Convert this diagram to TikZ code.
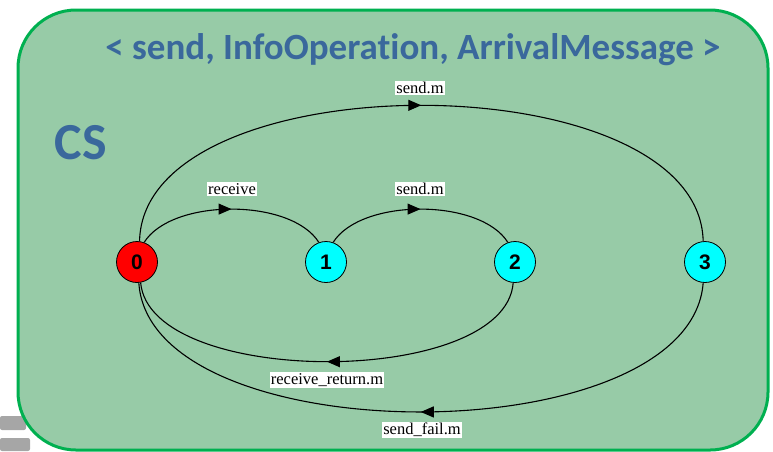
\documentclass[tikz,border=0pt]{standalone}
\usepackage{fontspec}
\setmainfont{Liberation Serif}
\newfontfamily\calib[Ligatures=NoCommon]{Carlito}
\newfontfamily\arialf{Liberation Sans}
\usetikzlibrary{arrows.meta,decorations.markings}
\definecolor{boxgreen}{RGB}{0,176,80}
\definecolor{boxfill}{RGB}{151,203,167}
\definecolor{titleblue}{RGB}{58,104,156}
\definecolor{statecyan}{RGB}{0,255,255}
\definecolor{statered}{RGB}{255,0,0}
\begin{document}
\begin{tikzpicture}[x=1pt,y=-1pt,
 state/.style={circle,draw=black,line width=0.8pt,minimum size=41pt,inner sep=0pt,font=\arialf\bfseries\fontsize{21}{21}\selectfont},
 lbl/.style={fill=white,inner sep=1pt,font=\fontsize{16.5}{16.5}\selectfont},
 trans/.style={draw=black,line width=1.1pt,postaction={decorate},decoration={markings,mark=at position 0.5 with {\arrow{Triangle[length=13pt,width=11pt]}}}},
 titlefont/.style={text=titleblue,font=\calib\bfseries\fontsize{37}{37}\selectfont}]
\useasboundingbox (0,0) rectangle (773,451);
% logo fragment behind the box
\fill[gray!70,rounded corners=2pt] (0,416) rectangle (26,430);
\fill[gray!70,rounded corners=2pt] (0,438) rectangle (30,451);
\draw[draw=boxgreen,fill=boxfill,line width=3pt,rounded corners=58pt] (18,10) rectangle (768,450);
\node[titlefont] (title) at (413,50) {< send, InfoOperation, ArrivalMessage >};
\node[titlefont,font=\calib\bfseries\fontsize{52}{52}\selectfont] (cs) at (81,143) {CS};
\node[state,fill=statered] (n0) at (137,262) {0};
\node[state,fill=statecyan] (n1) at (326,262) {1};
\node[state,fill=statecyan] (n2) at (515,262) {2};
\node[state,fill=statecyan] (n3) at (705,262) {3};
\draw[trans] (n0.83) .. controls (143,60) and (699,60) .. (n3.95);
\draw[trans] (n0.70) .. controls (172,198) and (291,198) .. (n1.110);
\draw[trans] (n1.70) .. controls (361,198) and (480,198) .. (n2.110);
\draw[trans] (n2.265) .. controls (505,388) and (150,388) .. (n0.-80);
\draw[trans] (n3.265) .. controls (690,455) and (150,455) .. (n0.-85);
\node[lbl] (l1) at (420,88) {send.m};
\node[lbl] (l2) at (232,189) {receive};
\node[lbl] (l3) at (420,189) {send.m};
\node[lbl] (l4) at (327,380) {receive\_return.m};
\node[lbl] (l5) at (422,430) {send\_fail.m};
\end{tikzpicture}
\end{document}
